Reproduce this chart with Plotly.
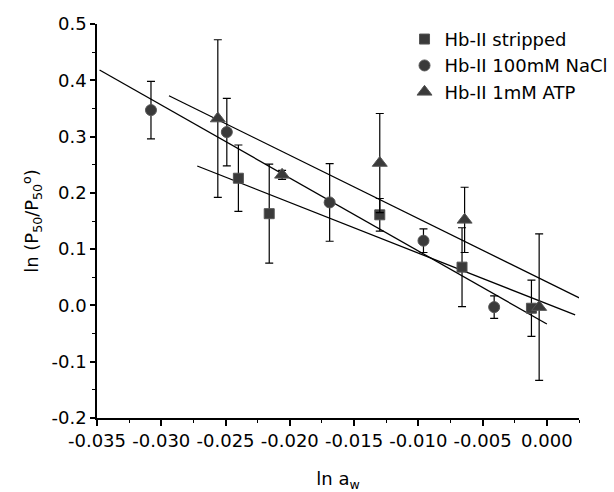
import plotly.graph_objects as go

# ---- data ----
series_names = ["Hb-II stripped", "Hb-II 100mM NaCl", "Hb-II 1mM ATP"]

x_stripped = [-0.0240, -0.0216, -0.0130, -0.0066, -0.0012]
y_stripped = [0.226, 0.163, 0.161, 0.068, -0.005]
e_stripped = [0.059, 0.088, 0.029, 0.070, 0.050]

x_nacl = [-0.0308, -0.0249, -0.0169, -0.0096, -0.0041]
y_nacl = [0.347, 0.308, 0.183, 0.115, -0.003]
e_nacl = [0.051, 0.060, 0.069, 0.021, 0.020]

x_atp = [-0.0256, -0.0206, -0.0130, -0.0064, -0.0006]
y_atp = [0.332, 0.232, 0.253, 0.152, -0.003]
e_atp = [0.140, 0.008, 0.088, 0.058, 0.130]

# linear fits: intercept, slope, x-range of drawn line
fit_intercept = [0.0029, -0.033, 0.0418]
fit_slope = [-9.0, -12.97, -11.25]
fit_xstart = [-0.0272, -0.0348, -0.0294]
fit_xend = [0.0022, 0.0000, 0.0027]

x_tickvals = [-0.035, -0.030, -0.025, -0.020, -0.015, -0.010, -0.005, 0.000]
x_ticktext = ["-0.035", "-0.030", "-0.025", "-0.020", "-0.015", "-0.010", "-0.005", "0.000"]
y_tickvals = [-0.2, -0.1, 0.0, 0.1, 0.2, 0.3, 0.4, 0.5]
y_ticktext = ["-0.2", "-0.1", "0.0", "0.1", "0.2", "0.3", "0.4", "0.5"]

FONT = "DejaVu Sans"
MARK = "#3a3a3a"

fig = go.Figure()

# fit lines
for i in range(3):
    xs = [fit_xstart[i], fit_xend[i]]
    ys = [fit_intercept[i] + fit_slope[i] * x for x in xs]
    fig.add_trace(go.Scatter(x=xs, y=ys, mode="lines",
                             line=dict(color="black", width=1.3),
                             showlegend=False, hoverinfo="skip"))

symbols = ["square", "circle", "triangle-up"]
sizes = [10, 11, 13]
data = [(x_stripped, y_stripped, e_stripped),
        (x_nacl, y_nacl, e_nacl),
        (x_atp, y_atp, e_atp)]
for i, (xs, ys, es) in enumerate(data):
    fig.add_trace(go.Scatter(
        x=xs, y=ys, mode="markers", name=series_names[i],
        marker=dict(symbol=symbols[i], size=sizes[i], color=MARK,
                    line=dict(color="#555555", width=1)),
        error_y=dict(type="data", array=es, visible=True,
                     color="black", thickness=1.2, width=4),
    ))

fig.update_layout(
    width=614, height=492, autosize=False,
    margin=dict(l=97, r=35, t=24, b=74, autoexpand=False),
    paper_bgcolor="white", plot_bgcolor="white",
    font=dict(family=FONT, size=18, color="black"),
    legend=dict(x=0.638, y=1.008, xanchor="left", yanchor="top",
                font=dict(family=FONT, size=18), bgcolor="rgba(0,0,0,0)",
                tracegroupgap=0, itemsizing="trace"),
    showlegend=True,
)

fig.update_xaxes(
    range=[-0.035, 0.0025], showgrid=False, zeroline=False,
    showline=True, linecolor="black", linewidth=1.5,
    ticks="outside", ticklen=6, tickwidth=1.5, tickcolor="black",
    tickvals=x_tickvals, ticktext=x_ticktext,
    minor=dict(ticks="outside", ticklen=3, tickwidth=1.2, tickcolor="black", dtick=0.0025, tick0=0),
    title=dict(text="ln a<sub>w</sub>", font=dict(family=FONT, size=18), standoff=25),
    automargin=False,
)
fig.update_yaxes(
    range=[-0.2, 0.5], showgrid=False, zeroline=False,
    showline=True, linecolor="black", linewidth=1.5,
    ticks="outside", ticklen=5, tickwidth=1.5, tickcolor="black",
    tickvals=y_tickvals, ticktext=y_ticktext,
    minor=dict(ticks="outside", ticklen=3, tickwidth=1.2, tickcolor="black", dtick=0.05, tick0=0),
    title=dict(text="ln (P<sub>50</sub>/P<sub>50</sub><sup>o</sup>)", font=dict(family=FONT, size=18), standoff=8),
    automargin=False,
)

fig.write_html(
    "out.html",
    config={"responsive": False, "displayModeBar": False},
    post_script="document.body.style.margin='0';document.body.style.overflow='hidden';",
)
